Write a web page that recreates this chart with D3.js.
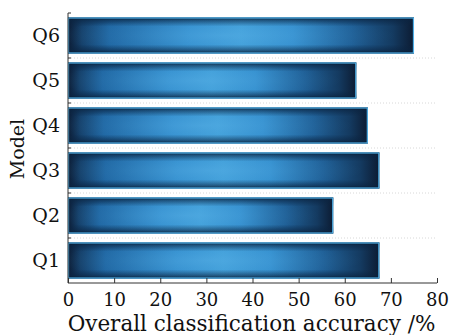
<!DOCTYPE html>
<html><head><meta charset="utf-8">
<script src="https://cdn.jsdelivr.net/npm/d3@7"></script>
<style>body{margin:0;background:#fff}svg{display:block}</style>
</head><body>
<svg id="c" width="451" height="335"></svg>
<script>
const categories = ["Q1","Q2","Q3","Q4","Q5","Q6"];
const values = [67.5, 57.5, 67.5, 65.0, 62.5, 75.0];
const xTicks = [0,10,20,30,40,50,60,70,80];
const xTitle = "Overall classification accuracy /%";
const yTitle = "Model";

const svg = d3.select("#c");
const font = "'DejaVu Serif', serif";
const L = 68, R = 437, T = 13, B = 283;
const x = d3.scaleLinear().domain([0,80]).range([L,R]);
const y = d3.scaleBand().domain(categories).range([B,T]).paddingInner(0.2).paddingOuter(0.1);

const defs = svg.append("defs");
const hg = defs.append("linearGradient").attr("id","hg").attr("x1",0).attr("x2",1).attr("y1",0).attr("y2",0);
[[0,"#0c1d36"],[0.04,"#15406a"],[0.12,"#1f66a2"],[0.35,"#3590cf"],[0.5,"#42a0da"],[0.65,"#3590cf"],[0.82,"#1f5f96"],[0.94,"#143a60"],[1,"#0c1b32"]]
  .forEach(s=>hg.append("stop").attr("offset",s[0]).attr("stop-color",s[1]));
const vg = defs.append("linearGradient").attr("id","vg").attr("x1",0).attr("x2",0).attr("y1",0).attr("y2",1);
[[0,"#071628",0.9],[0.08,"#0a2340",0.6],[0.25,"#0a2340",0],[0.75,"#0a2340",0],[0.92,"#0a2340",0.6],[1,"#071628",0.9]]
  .forEach(s=>vg.append("stop").attr("offset",s[0]).attr("stop-color",s[1]).attr("stop-opacity",s[2]));
const rg = defs.append("radialGradient").attr("id","rg").attr("cx",0.45).attr("cy",0.5).attr("r",0.5);
[[0,"#60b6ea",0.35],[0.6,"#5ab0e6",0.1],[1,"#5ab0e6",0]]
  .forEach(s=>rg.append("stop").attr("offset",s[0]).attr("stop-color",s[1]).attr("stop-opacity",s[2]));

// gridlines at band boundaries
const step = y.step();
const bounds = categories.slice(1).map((c,i)=> y(categories[i]) - (step - y.bandwidth())/2);
svg.append("g").selectAll("line").data(bounds).join("line")
  .attr("x1",L).attr("x2",R).attr("y1",d=>d).attr("y2",d=>d)
  .attr("stroke","#d8d8d8").attr("stroke-width",1).attr("stroke-dasharray","1,2");

const bars = svg.append("g").selectAll("g").data(categories).join("g");
["url(#hg)","url(#vg)","url(#rg)"].forEach(f=>{
  bars.append("rect").attr("x",x(0)).attr("y",d=>y(d))
    .attr("width",(d,i)=>x(values[i])-x(0)).attr("height",y.bandwidth()).attr("fill",f);
});
bars.append("rect").attr("x",x(0)+0.5).attr("y",d=>y(d)+0.5)
  .attr("width",(d,i)=>x(values[i])-x(0)-1).attr("height",y.bandwidth()-1)
  .attr("fill","none").attr("stroke","#4fb0e8").attr("stroke-width",1.2);

// axes
const xa = svg.append("g").attr("transform",`translate(0,${B})`)
  .call(d3.axisBottom(x).tickValues(xTicks).tickSize(-5).tickFormat(d3.format("d")));
xa.select(".domain").attr("stroke","#333").attr("d",`M${L},0H${R}`);
xa.selectAll(".tick line").attr("stroke","#333");
xa.selectAll("text").attr("font-family",font).attr("font-size",18).attr("fill","#111").attr("dy","0.71em").attr("y",10);

const ya = svg.append("g").attr("transform",`translate(${L},0)`)
  .call(d3.axisLeft(y).tickSize(0).tickPadding(8));
ya.select(".domain").attr("stroke","#333").attr("d",`M0,${T}V${B}`);
ya.selectAll("text").attr("font-family",font).attr("font-size",19).attr("fill","#111");
svg.append("g").selectAll("line").data([T].concat(bounds)).join("line")
  .attr("x1",L).attr("x2",L+3).attr("y1",d=>d).attr("y2",d=>d).attr("stroke","#333");

const xt = svg.append("text").attr("x",(L+R)/2 - 1).attr("y",330.5).attr("text-anchor","middle")
  .attr("font-family",font).attr("font-size",18).attr("fill","#111").text(xTitle);
const w = xt.node().getComputedTextLength();
xt.attr("font-size", 18*368/w);

svg.append("text").attr("transform","translate(24,149) rotate(-90)").attr("text-anchor","middle")
  .attr("font-family",font).attr("font-size",19).attr("fill","#111").text(yTitle);
</script>
</body></html>
